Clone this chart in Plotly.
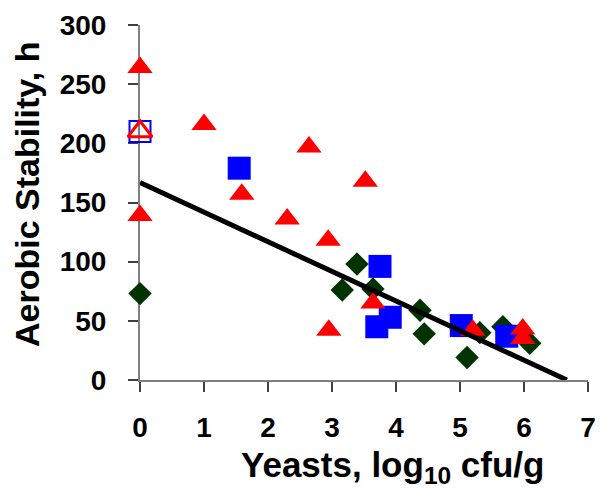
import plotly.graph_objects as go

# Filled red triangles
tri_x = [0.0, 0.0, 1.0, 1.59, 2.30, 2.64, 2.94, 2.95, 3.52, 3.64, 5.20, 5.98, 5.98]
tri_y = [264, 139, 216, 157, 136, 197, 118, 42, 168, 65, 42, 43, 35]
# Open red triangle
tri_open_x = [0.0]
tri_open_y = [210]

# Filled blue squares
sq_x = [1.55, 3.75, 3.70, 3.91, 5.02, 5.73]
sq_y = [179, 96, 45, 53, 46, 37]
# Open blue square
sq_open_x = [0.0]
sq_open_y = [210]

# Dark green diamonds
dia_x = [0.0, 3.39, 3.16, 3.64, 4.375, 4.44, 5.11, 5.31, 5.67, 6.09]
dia_y = [73, 98, 76, 77, 59, 39, 19, 40, 45, 31]

# Regression line
reg_x = [0.0, 6.67]
reg_intercept = 166.8
reg_slope = -25.0
reg_y = [reg_intercept + reg_slope * v for v in reg_x]

x_ticks = [0, 1, 2, 3, 4, 5, 6, 7]
y_ticks = [0, 50, 100, 150, 200, 250, 300]

FONT = "Liberation Sans, Arial, sans-serif"

fig = go.Figure()
fig.add_trace(go.Scatter(x=dia_x, y=dia_y, mode="markers", cliponaxis=False,
                         marker=dict(symbol="diamond", size=18, color="#003300",
                                     line=dict(width=0))))
fig.add_trace(go.Scatter(x=sq_x, y=sq_y, mode="markers", cliponaxis=False,
                         marker=dict(symbol="square", size=23, color="#0000FF",
                                     line=dict(width=0))))
fig.add_trace(go.Scatter(x=sq_open_x, y=sq_open_y, mode="markers", cliponaxis=False,
                         marker=dict(symbol="square-open", size=21, color="#0000FF",
                                     line=dict(width=2, color="#0000FF"))))
fig.add_trace(go.Scatter(x=tri_x, y=tri_y, mode="markers", cliponaxis=False,
                         marker=dict(symbol="triangle-up", size=22, color="#FF0000",
                                     line=dict(width=0))))
fig.add_trace(go.Scatter(x=tri_open_x, y=tri_open_y, mode="markers", cliponaxis=False,
                         marker=dict(symbol="triangle-up-open", size=21, color="#FF0000",
                                     line=dict(width=3, color="#FF0000"))))
fig.add_trace(go.Scatter(x=reg_x, y=reg_y, mode="lines",
                         line=dict(color="black", width=5)))

# The page body adds an 8 px offset; the figure is sized to fill the rest.
fig.update_layout(
    width=600, height=492,
    margin=dict(l=132, r=20, t=17, b=120),
    paper_bgcolor="white", plot_bgcolor="white",
    showlegend=False,
    font=dict(family=FONT, color="black"),
    xaxis=dict(range=[0, 7], tickvals=x_ticks, ticktext=[str(v) for v in x_ticks],
               automargin=False,
               showgrid=False, zeroline=False, showline=True, linecolor="#808080",
               linewidth=2, ticks="outside", ticklen=10, tickcolor="#404040",
               tickwidth=1.5, layer="below traces", ticklabelstandoff=11,
               tickfont=dict(size=28, family=FONT, color="black", weight="bold")),
    yaxis=dict(range=[0, 300], tickvals=y_ticks, ticktext=[str(v) for v in y_ticks],
               automargin=False,
               showgrid=False, zeroline=False, showline=True, linecolor="#808080",
               linewidth=2, ticks="outside", ticklen=10, tickcolor="#404040",
               tickwidth=1.5, layer="below traces", ticklabelstandoff=16,
               tickfont=dict(size=28, family=FONT, color="black", weight="bold")),
    annotations=[
        dict(text="<b>Yeasts, log<sub>10</sub> cfu/g</b>", xref="paper", yref="paper",
             x=(392 - 140) / 448, y=-(467 - 380) / 355, xanchor="center", yanchor="middle",
             showarrow=False, font=dict(size=35, family=FONT, color="black")),
        dict(text="<b>Aerobic Stability, h</b>", xref="paper", yref="paper",
             x=-(140 - 27) / 448, y=(380 - 195) / 355, xanchor="center", yanchor="middle",
             textangle=-90, showarrow=False, font=dict(size=34, family=FONT, color="black")),
    ],
)

fig.write_html("out.html")
